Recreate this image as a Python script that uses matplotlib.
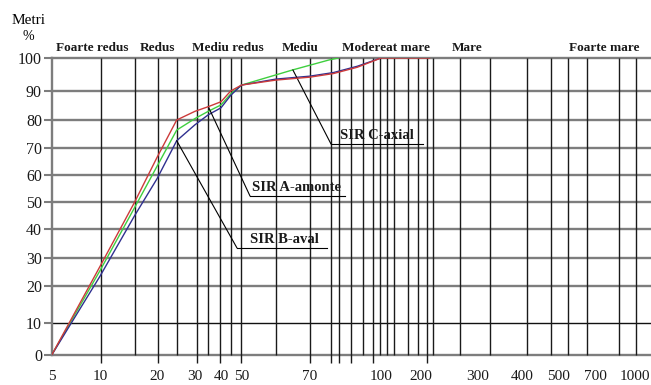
import numpy as np
import matplotlib
matplotlib.use("Agg")
import matplotlib.pyplot as plt
from matplotlib.lines import Line2D

# data
x_a = [5, 10, 15, 20, 25, 30, 35, 40, 45, 50, 60, 70, 80, 90, 100, 215]
sir_a = [0, 27, 50, 66.5, 80, 83, 84.6, 86.3, 90, 91.8, 93.3, 94.2, 95.3, 97.2, 100, 100]
x_b = [5, 10, 15, 20, 25, 30, 35, 40, 45, 50, 60, 70, 80, 90, 100]
sir_b = [0, 23.5, 45, 58.6, 72.6, 78.3, 81.8, 84.2, 88.5, 91.8, 93.6, 94.5, 95.6, 97.5, 100]
x_c = [5, 10, 15, 20, 25, 30, 35, 40, 45, 50, 65, 78, 82]
sir_c = [0, 25.5, 48, 63.2, 76.4, 80.5, 83, 85.2, 89, 91.8, 96.4, 99.4, 100]

x_ticks = [5, 10, 20, 30, 40, 50, 70, 100, 200, 300, 400, 500, 700, 1000]
y_ticks = [0, 10, 20, 30, 40, 50, 60, 70, 80, 90, 100]
classes = ["Foarte redus", "Redus", "Mediu redus", "Mediu", "Modereat mare", "Mare", "Foarte mare"]

# layout of the odd scanned axes (pixel positions)
x_anchor_val = [5, 10, 15, 20, 25, 30, 35, 40, 45, 50, 60, 70, 100, 200, 300, 400, 500, 700, 1000, 1100]
x_anchor_px = [51.7, 100, 134.7, 157, 176.7, 195, 208.3, 221, 230.7, 241.5, 275.7, 310, 381, 421,
               478, 522, 558, 595, 635, 652]
y_px = [355, 323, 286, 258, 229, 202, 175, 148, 120, 91, 58]
y_h = [355 - p for p in y_px]

grid_px = [100.7, 134.7, 157.7, 176.7, 196.7, 208.3, 220, 230.7, 240.7, 275.7, 310, 330.7, 339.3,
           351, 362.7, 373.3, 380, 387, 394, 407.5, 417.5, 426.5, 432.7, 459.7, 489.7, 527.3,
           550.7, 568.3, 587.3, 619, 635.7]
long_px = [100.7, 157.7, 196.7, 220, 240.7, 310, 330.7, 339.3, 351, 373.3, 426.5]
class_px = [92, 157, 228, 300, 386, 467, 604]

W, H = 651, 385


def fwd_x(v):
    return np.interp(v, x_anchor_val, x_anchor_px)


def inv_x(p):
    return np.interp(p, x_anchor_px, x_anchor_val)


def fwd_y(v):
    return np.interp(v, y_ticks, y_h)


def inv_y(p):
    return np.interp(p, y_h, y_ticks)


def fig_xy(x, y):
    return x / W, 1 - y / H


serif = "Liberation Serif"
fig = plt.figure(figsize=(W / 100, H / 100), dpi=100)
ax = fig.add_axes([51.7 / W, (H - 355) / H, (W - 51.7) / W, 297 / H])
ax.set_xscale("function", functions=(fwd_x, inv_x))
ax.set_yscale("function", functions=(fwd_y, inv_y))
ax.set_xlim(5, inv_x(651))
ax.set_ylim(0, 100)

# grid
for v in y_ticks:
    if v == 10:
        ax.axhline(v, color="#111111", lw=1.0, zorder=1)
    else:
        ax.axhline(v, color="#7d7d7d", lw=1.7, zorder=1, clip_on=False)
for p in grid_px:
    ymin = -8 / 297 if p in long_px else 0
    ax.vlines(inv_x(p), ymin, 1, transform=ax.get_xaxis_transform(), color="#1a1a1a",
              lw=1.0, clip_on=False, zorder=1)

ax.plot(x_c, sir_c, color="#3fcf3f", lw=1.0, zorder=3)
ax.plot(x_b, sir_b, color="#303090", lw=1.0, zorder=3)
ax.plot(x_a, sir_a, color="#cc3a3a", lw=1.0, zorder=4)

for s in ["top", "right", "bottom"]:
    ax.spines[s].set_visible(False)
ax.spines["left"].set_color("#7d7d7d")
ax.spines["left"].set_linewidth(1.7)

ax.set_yticks(y_ticks)
ax.set_yticklabels([str(v) for v in y_ticks], fontfamily=serif, fontsize=11.5, color="#1a1a1a")
ax.tick_params(axis="y", length=6, width=1.5, color="#7d7d7d", pad=1)
ax.set_xticks(x_ticks)
ax.set_xticklabels([str(v) for v in x_ticks], fontfamily=serif, fontsize=11, color="#1a1a1a")
ax.tick_params(axis="x", length=0, pad=11)
ax.minorticks_off()

# class names above the grid
for name, cx in zip(classes, class_px):
    fig.text(*fig_xy(cx, 48), name, ha="center", va="center", fontfamily=serif,
             fontweight="bold", fontsize=9.5, color="#1a1a1a")

fig.text(*fig_xy(29, 21), "Metri", ha="center", va="center", fontfamily=serif, fontsize=11)
fig.text(*fig_xy(28, 37), "%", ha="center", va="center", fontfamily=serif, fontsize=10)

# callouts: label, point on curve, corner of leader, end of underline, text offset
callouts = [
    ("SIR A-amonte", x_a[6], sir_a[6], (250, 196), 345, 2),
    ("SIR B-aval", x_b[4], sir_b[4], (237, 248), 327, 13),
    ("SIR C-axial", x_c[10], sir_c[10], (331, 144), 423, 9),
]
for label, xv, yv, corner, end, dx in callouts:
    ax.annotate("", xy=(xv, yv), xycoords="data", xytext=fig_xy(*corner),
                textcoords="figure fraction",
                arrowprops=dict(arrowstyle="-", color="black", lw=0.8, shrinkA=0, shrinkB=0))
    x0, y0 = fig_xy(*corner)
    x1, _ = fig_xy(end, corner[1])
    fig.add_artist(Line2D([x0, x1], [y0, y0], transform=fig.transFigure, color="black", lw=0.8))
    fig.text(x0 + dx / W, y0 + 2 / H, label, ha="left", va="bottom", fontfamily=serif,
             fontsize=10.5, fontweight="semibold", color="#1a1a1a")

fig.savefig("out.png", dpi=100)
